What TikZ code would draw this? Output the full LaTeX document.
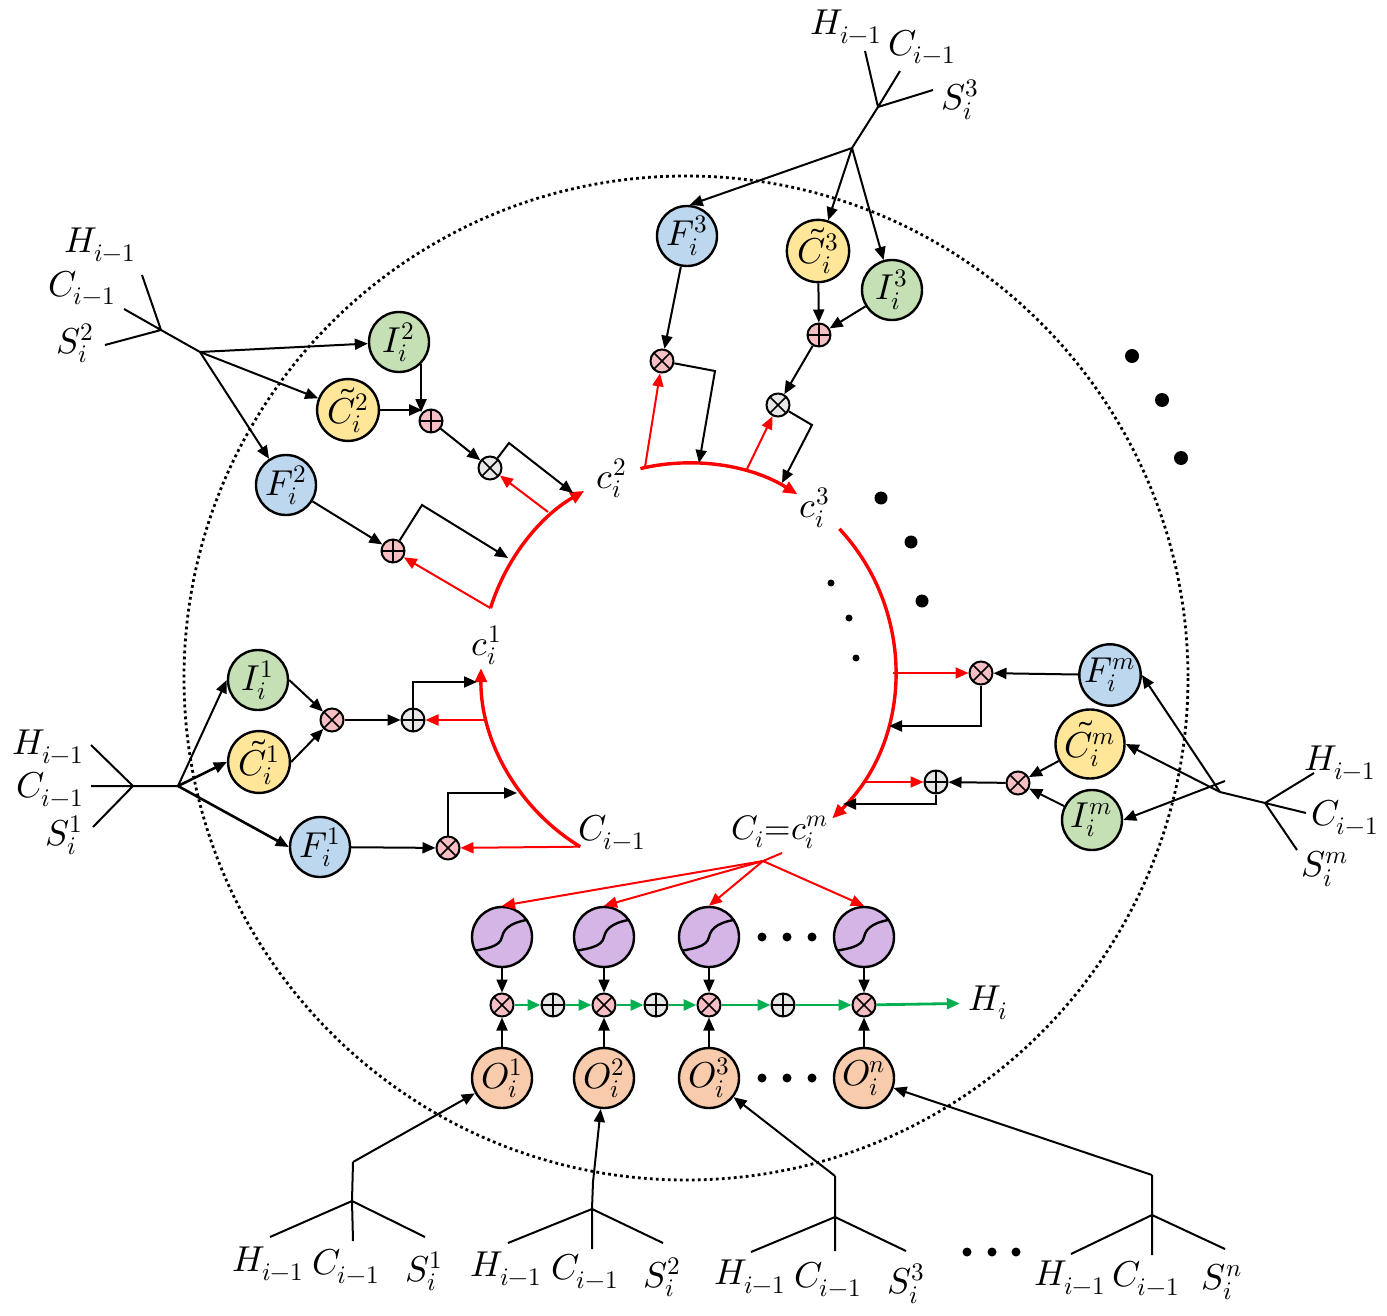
\documentclass[tikz,border=0pt]{standalone}
\usepackage{unicode-math}
\usetikzlibrary{arrows.meta,calc}
\definecolor{cF}{HTML}{BDD7EE}
\definecolor{cI}{HTML}{C5E0B4}
\definecolor{cC}{HTML}{FFE699}
\definecolor{cO}{HTML}{F8CBAD}
\definecolor{cS}{HTML}{D5B4E6}
\definecolor{cP}{HTML}{F7BFC4}
\definecolor{cG}{HTML}{E7E7E7}
\definecolor{cR}{HTML}{FF0000}
\definecolor{cGr}{HTML}{00B050}
\tikzset{
 lab/.style={font=\fontsize{18}{21}\selectfont, inner sep=0pt},
 gate/.style={circle, draw, line width=1.2pt, minimum size=30pt, inner sep=0pt, font=\fontsize{18}{20}\selectfont},
 fg/.style={gate, fill=cF}, ig/.style={gate, fill=cI}, cg/.style={gate, fill=cC}, og/.style={gate, fill=cO},
 sg/.style={gate, fill=cS, path picture={\draw[line width=1.2pt, shift={(path picture bounding box.center)}] (-18pt,-7.5pt) .. controls (-8pt,-6pt) and (-1pt,-5pt) .. (0pt,0pt) .. controls (1pt,5pt) and (6pt,8pt) .. (16pt,9pt);}},
 op/.style={circle, draw, line width=1pt, minimum size=11.5pt, inner sep=0pt},
 mul/.style={op, path picture={\draw[line width=0.8pt] (path picture bounding box.north west) -- (path picture bounding box.south east) (path picture bounding box.north east) -- (path picture bounding box.south west);}},
 add/.style={op, path picture={\draw[line width=0.8pt] (path picture bounding box.north) -- (path picture bounding box.south) (path picture bounding box.east) -- (path picture bounding box.west);}},
 pmul/.style={mul, fill=cP}, gmul/.style={mul, fill=cG}, padd/.style={add, fill=cP}, gadd/.style={add, fill=cG},
 arr/.style={line width=1pt, -{Triangle[length=6.5pt,width=5.5pt]}},
 rarr/.style={arr, color=cR},
 rline/.style={line width=1pt, color=cR},
 garr/.style={line width=1.4pt, color=cGr, -{Triangle[length=6.5pt,width=5.5pt]}},
 ring/.style={line width=1.7pt, color=cR, -{Triangle[length=7pt,width=6pt]}},
 tree/.style={line width=1pt},
 bigdot/.style={line width=1.4pt, dash pattern=on 1.4pt off 1.6pt},
}
\begin{document}
\begin{tikzpicture}[x=0.5pt,y=-0.5pt]
\useasboundingbox (0,0) rectangle (1387,1316);
% outer dotted circle
\draw[bigdot] (686,678) circle[radius=502];

% ring
\coordinate (ringc) at (688,670);
\coordinate (aA) at ($(ringc)+(121.4:207)$);
\coordinate (bS) at ($(ringc)+(197.4:207)$);
\coordinate (cS) at ($(ringc)+(256.7:207)$);
\coordinate (dS) at ($(ringc)+(317:207)$);
\draw[ring] (aA) arc[start angle=121.4, end angle=180.5, radius=207];
\draw[ring] (bS) arc[start angle=197.4, end angle=239.9, radius=207];
\draw[ring] (cS) arc[start angle=256.7, end angle=301.9, radius=207];
\draw[ring] (dS) arc[start angle=317, end angle=405.8, radius=207];

\node[lab] (lc1) at (487,645) {$c_i^1$};
\node[lab] (lc2) at (612,478) {$c_i^2$};
\node[lab] (lc3) at (815,508) {$c_i^3$};
\node[lab] (lcp) at (612,832) {$C_{i-1}$};
\node[lab, font=\fontsize{17}{20}\selectfont] (lcm) at (780,832) {$C_i{=}c_i^m$};

% ---------- group 2 (top-left)
\node[ig] (I2) at (399,342) {$I_i^2$};
\node[cg] (C2) at (348,410) {$\tilde{C}_i^2$};
\node[fg] (F2) at (286,485) {$F_i^2$};
\node[padd] (pa2) at (431,421) {};
\node[gmul] (g2) at (490,468) {};
\node[padd] (pb2) at (393,551) {};
\node[lab] (lH2) at (100,245) {$H_{i-1}$};
\node[lab] (lC2) at (82,288) {$C_{i-1}$};
\node[lab] (lS2) at (75,343) {$S_i^2$};
\coordinate (h2) at (142,275);
\coordinate (c2) at (124,309);
\coordinate (s2) at (105,345);
\coordinate (j2a) at (161,330);
\coordinate (j2b) at (200,352);
\coordinate (k2a) at (509,443);
\coordinate (t2a) at (573,493);
\coordinate (r2a) at (548,512);
\coordinate (k2b) at (422,505);
\coordinate (t2b) at (508,558);
\draw[tree] (h2) -- (j2a) (c2) -- (j2a) (s2) -- (j2a) (j2a) -- (j2b);
\draw[arr] (j2b) -- (I2);
\draw[arr] (j2b) -- (C2);
\draw[arr] (j2b) -- (F2);
\draw[arr] (I2.-45) -- (I2.-45 |- pa2.north west);
\draw[arr] (C2.east) -- (C2.east -| pa2.north west);
\draw[arr] (pa2) -- (g2);
\draw[arr] (g2) -- (k2a) -- (t2a);
\draw[rarr] (r2a) -- (g2);
\draw[arr] (F2) -- (pb2);
\draw[arr] (pb2) -- (k2b) -- (t2b);
\draw[rarr] (bS) -- (pb2);

% ---------- group 3 (top)
\node[fg] (F3) at (687,236) {$F_i^3$};
\node[cg] (C3) at (818,251) {$\tilde{C}_i^3$};
\node[ig] (I3) at (892,290) {$I_i^3$};
\node[pmul] (p3a) at (662,361) {};
\node[padd] (p3b) at (819,335) {};
\node[gmul] (g3) at (778,405) {};
\node[lab] (lH3) at (846,27) {$H_{i-1}$};
\node[lab] (lC3) at (922,47) {$C_{i-1}$};
\node[lab] (lS3) at (960,100) {$S_i^3$};
\coordinate (h3) at (865,51);
\coordinate (c3) at (900,71);
\coordinate (s3) at (933,90);
\coordinate (j3a) at (878,107);
\coordinate (j3b) at (852,148);
\coordinate (k3a) at (715,371);
\coordinate (t3a) at (699,463);
\coordinate (r3a) at (645,467);
\coordinate (k3b) at (812,425);
\coordinate (t3b) at (782,483);
\coordinate (r3b) at (747,469);
\draw[tree] (h3) -- (j3a) (c3) -- (j3a) (s3) -- (j3a) (j3a) -- (j3b);
\draw[arr] (j3b) -- (F3.85);
\draw[arr] (j3b) -- (C3);
\draw[arr] (j3b) -- (I3);
\draw[arr] (F3) -- (p3a);
\draw[arr] (C3) -- (p3b);
\draw[arr] (I3) -- (p3b);
\draw[arr] (p3b) -- (g3);
\draw[arr] (p3a) -- (k3a) -- (t3a);
\draw[rarr] (r3a) -- (p3a);
\draw[arr] (g3) -- (k3b) -- (t3b);
\draw[rarr] (r3b) -- (g3);

% ---------- group 1 (left)
\node[ig] (I1) at (258,680) {$I_i^1$};
\node[cg] (C1) at (259,762) {$\tilde{C}_i^1$};
\node[fg] (F1) at (320,847) {$F_i^1$};
\node[pmul] (p1a) at (332,720) {};
\node[gadd] (g1) at (413,720) {};
\node[pmul] (p1b) at (448,848) {};
\node[lab] (lH1) at (48,747) {$H_{i-1}$};
\node[lab] (lC1) at (50,789) {$C_{i-1}$};
\node[lab] (lS1) at (64,835) {$S_i^1$};
\coordinate (h1) at (91,745);
\coordinate (c1) at (91,786);
\coordinate (s1) at (93,827);
\coordinate (j1a) at (133,786);
\coordinate (j1b) at (178,786);
\coordinate (r1a) at (486,720);
\coordinate (t1a) at (477,682);
\coordinate (t1b) at (517,793);
\draw[tree] (h1) -- (j1a) (c1) -- (j1a) (s1) -- (j1a) (j1a) -- (j1b);
\draw[arr] (j1b) -- (I1.west);
\draw[arr, line width=1.3pt] (j1b) -- (C1.west);
\draw[arr, line width=1.3pt] (j1b) -- (F1.west);
\draw[arr] (I1.east) -- (p1a);
\draw[arr] (C1.east) -- (p1a);
\draw[arr] (p1a) -- (g1);
\draw[rarr] (r1a) -- (g1);
\draw[arr] (g1.north) |- (t1a);
\draw[arr] (F1) -- (p1b);
\draw[rarr] (aA) -- (p1b);
\draw[arr] (p1b.north) |- (t1b);

% ---------- group m (right)
\node[fg] (Fm) at (1110,675) {$F_i^m$};
\node[cg] (Cm) at (1090,744) {$\tilde{C}_i^m$};
\node[ig] (Im) at (1092,820) {$I_i^m$};
\node[pmul] (pma) at (981,673) {};
\node[pmul] (pmb) at (1018,783) {};
\node[gadd] (gm) at (936,782) {};
\node[lab] (lHm) at (1340,763) {$H_{i-1}$};
\node[lab] (lCm) at (1345,817) {$C_{i-1}$};
\node[lab] (lSm) at (1325,869) {$S_i^m$};
\coordinate (hm) at (1314,773);
\coordinate (cm) at (1306,813);
\coordinate (sm) at (1297,850);
\coordinate (jma) at (1265,803);
\coordinate (jmb) at (1220,792);
\coordinate (jmi) at (1225,781);
\coordinate (rma) at (893,673);
\coordinate (tma) at (889,726);
\coordinate (rmb) at (863,782);
\coordinate (tmb) at (843,804);
\draw[tree] (hm) -- (jma) (cm) -- (jma) (sm) -- (jma) (jma) -- (jmb);
\draw[arr] (jmb) -- (Fm.east);
\draw[arr] (jmb) -- (Cm.east);
\draw[arr] (jmi) -- (Im.east);
\draw[arr] (Fm) -- (pma);
\draw[rarr] (rma) -- (pma);
\draw[arr] (pma.south) |- (tma);
\draw[arr] (Cm) -- (pmb);
\draw[arr] (Im) -- (pmb);
\draw[arr] (pmb) -- (gm);
\draw[rarr] (rmb) -- (gm);
\draw[arr] (gm.south) |- (tmb);

% dots
\fill (1132,356) circle[radius=7];
\fill (1162,400) circle[radius=7];
\fill (1181,458) circle[radius=7];
\fill (881,498) circle[radius=6.5];
\fill (911,542) circle[radius=6.5];
\fill (922,601) circle[radius=6.5];
\fill (831,583) circle[radius=3.5];
\fill (849,618) circle[radius=3.5];
\fill (856,658) circle[radius=3.5];

% ---------- bottom output part
\node[sg] (sig1) at (502,937) {};
\node[sg] (sig2) at (604,937) {};
\node[sg] (sig3) at (709,937) {};
\node[sg] (sig4) at (864,937) {};
\node[pmul] (x1) at (502,1005) {};
\node[pmul] (x2) at (604,1005) {};
\node[pmul] (x3) at (709,1005) {};
\node[pmul] (x4) at (864,1005) {};
\node[gadd] (a1) at (553,1005) {};
\node[gadd] (a2) at (656,1005) {};
\node[gadd] (a3) at (783,1005) {};
\node[og] (o1) at (502,1078) {$O_i^1$};
\node[og] (o2) at (604,1078) {$O_i^2$};
\node[og] (o3) at (709,1078) {$O_i^3$};
\node[og] (o4) at (864,1078) {$O_i^n$};
\node[lab, inner sep=4pt] (Hi) at (988,1003) {$H_i$};
\foreach \xx in {762,787,812} {\fill (\xx,937) circle[radius=4.5]; \fill (\xx,1078) circle[radius=4.5];}
\foreach \xx in {967,992,1016} {\fill (\xx,1252) circle[radius=4.5];}

\coordinate (fa) at (782,853);
\coordinate (fb) at (763,861);
\draw[rline] (fa) -- (fb);
\draw[rarr] (fb) -- (sig1.north);
\draw[rarr] (fb) -- (sig2.north);
\draw[rarr] (fb) -- (sig3.north);
\draw[rarr] (fb) -- (sig4.north);
\foreach \k in {1,2,3,4} {\draw[arr] (sig\k) -- (x\k); \draw[arr] (o\k) -- (x\k);}
\draw[garr] (x1) -- (a1);
\draw[garr] (a1) -- (x2);
\draw[garr] (x2) -- (a2);
\draw[garr] (a2) -- (x3);
\draw[garr] (x3) -- (a3);
\draw[garr] (a3) -- (x4);
\draw[garr] (x4) -- (Hi);

% bottom trees
\coordinate (b1t) at (353,1162); \coordinate (b1j) at (352,1201);
\coordinate (b1h) at (270,1237); \coordinate (b1c) at (353,1241); \coordinate (b1s) at (425,1237);
\coordinate (b2t) at (593,1182); \coordinate (b2j) at (592,1209);
\coordinate (b2h) at (508,1243); \coordinate (b2c) at (592,1249); \coordinate (b2s) at (663,1243);
\coordinate (b3t) at (835,1176); \coordinate (b3j) at (835,1217);
\coordinate (b3h) at (751,1252); \coordinate (b3c) at (835,1251); \coordinate (b3s) at (906,1251);
\coordinate (b4t) at (1152,1175); \coordinate (b4j) at (1152,1215);
\coordinate (b4h) at (1071,1254); \coordinate (b4c) at (1152,1255); \coordinate (b4s) at (1225,1249);
\foreach \k in {1,2,3,4} {\draw[tree] (b\k h) -- (b\k j) (b\k c) -- (b\k j) (b\k s) -- (b\k j) (b\k j) -- (b\k t);
  \draw[arr] (b\k t) -- (o\k);}
\node[lab] (bl1H) at (268,1264) {$H_{i-1}$};
\node[lab] (bl1C) at (346,1266) {$C_{i-1}$};
\node[lab] (bl1S) at (424,1271) {$S_i^1$};
\node[lab] (bl2H) at (506,1269) {$H_{i-1}$};
\node[lab] (bl2C) at (585,1271) {$C_{i-1}$};
\node[lab] (bl2S) at (662,1277) {$S_i^2$};
\node[lab] (bl3H) at (750,1277) {$H_{i-1}$};
\node[lab] (bl3C) at (828,1279) {$C_{i-1}$};
\node[lab] (bl3S) at (906,1284) {$S_i^3$};
\node[lab] (bl4H) at (1070,1278) {$H_{i-1}$};
\node[lab] (bl4C) at (1146,1278) {$C_{i-1}$};
\node[lab] (bl4S) at (1222,1282) {$S_i^n$};
\end{tikzpicture}
\end{document}
